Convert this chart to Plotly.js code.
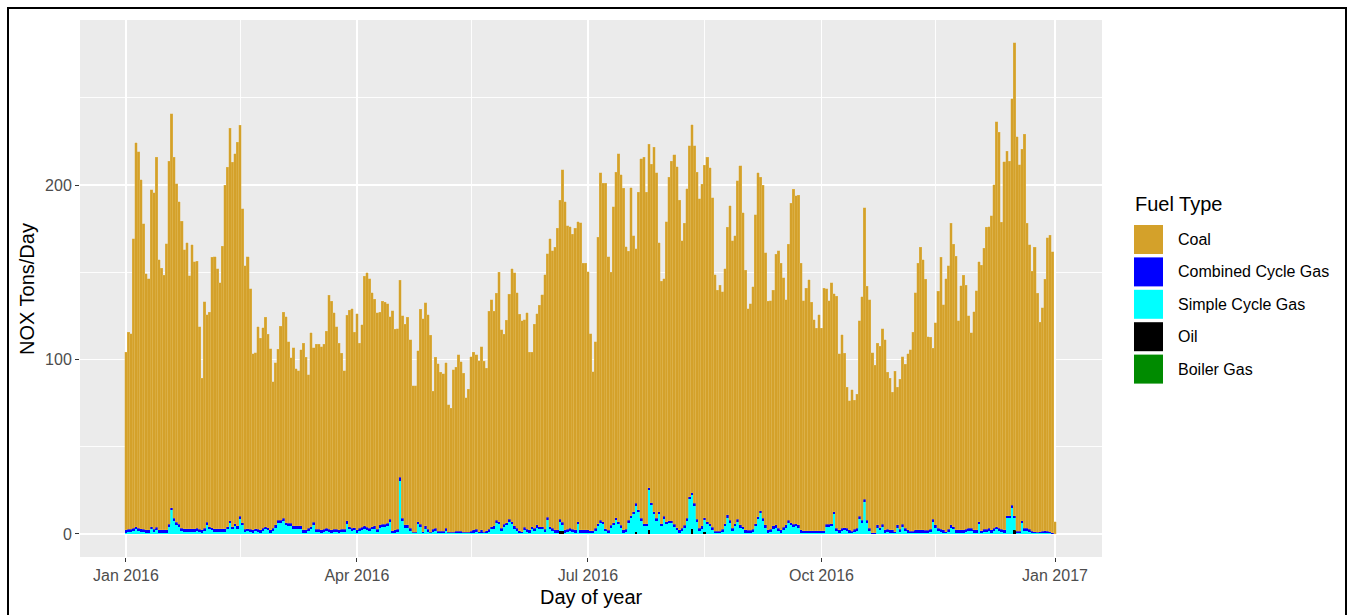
<!DOCTYPE html>
<html>
<head>
<meta charset="utf-8">
<script src="https://cdn.plot.ly/plotly-3.0.1.min.js"></script>
<style>html,body{margin:0;padding:0;background:#fff;}#chart{width:1354px;height:615px;}</style>
</head>
<body>
<div id="chart"></div>
<script>
// ---- Data (NOX tons/day by fuel type, one value per day from 2016-01-01 to 2017-01-01) ----
const startDate = '2016-01-01';

const coal = [
102,113,112,166,220,216,200,175,147,144,193,193,212,155,150,146,164,208,226,207,194,185,176,160,164,145,163,153,153,116,87,130,119,123,155,156,149,141,162,197,206,225,209,212,220,
224,180,151,156,138,101,101,116,110,115,120,111,104,84,93,98,111,118,118,104,95,102,90,89,101,107,99,88,111,100,106,106,105,106,113,134,131,124,116,107,101,91,118,124,126,112,
124,106,116,143,146,143,134,130,124,122,128,127,126,116,126,115,115,113,116,115,119,108,84,84,98,123,122,128,123,113,79,98,96,91,90,95,73,71,93,94,101,97,91,77,82,100,102,
100,98,105,98,93,125,130,123,130,143,114,109,116,129,145,145,135,124,121,119,124,102,100,117,121,127,133,146,151,165,159,162,173,183,202,188,174,173,169,173,172,176,153,153,148,113,
91,107,164,199,194,198,157,145,181,198,211,201,196,162,154,188,158,146,182,206,210,190,197,194,209,198,154,139,136,172,197,206,212,207,189,165,173,189,201,211,205,199,189,196,202,209,
204,189,147,138,141,136,146,165,180,165,165,194,206,180,149,127,130,139,177,197,191,191,156,131,131,135,155,159,153,143,129,158,183,192,188,189,153,132,139,144,131,121,116,124,116,139,
135,128,138,125,133,101,111,100,81,74,81,74,77,112,128,167,134,131,103,96,104,104,112,109,90,87,79,92,79,86,96,94,101,104,114,136,153,162,155,144,111,110,98,116,136,156,129,
145,151,173,162,157,120,140,146,140,122,112,125,137,149,152,161,173,173,180,197,232,227,176,211,209,203,233,271,226,210,213,226,175,163,149,163,137,120,128,144,168,170,161,7
];

const combinedCycleGas = [
1.5,1.5,1.5,1.5,1.5,1.5,1.5,1.5,1.5,1.5,1.5,1.5,1.5,1.5,1.5,1.5,1.5,1.5,1.5,1.5,1.5,1.5,1.5,1.5,1.5,1.5,1.5,1.5,1.5,1.5,
1.5,1.5,1.5,1.5,1.5,1.5,1.5,1.5,1.5,1.5,1.5,1.5,1.5,1.5,1.5,1.5,1.5,1.5,1.5,1.5,1.5,1.5,1.5,1.5,1.5,1.5,1.5,1.5,1.5,1.5,
1.5,1.5,1.5,1.5,1.5,1.5,1.5,1.5,1.5,1.5,1.5,1.5,1.5,1.5,1.5,1.5,1.5,1.5,1.5,1.5,1.5,1.5,1.5,1.5,1.5,1.5,1.5,1.5,1.5,1.5,1.5,
1.5,1.5,1.5,1.5,1.5,1.5,1.5,1.5,1.5,1.5,1.5,1.5,1.5,1.5,1.3,1.5,1.5,2,1.5,1.5,1.5,1.5,0.7,0.7,1.5,1.5,0.9,1.5,1.5,0.7,1.5,1.5,1.2,1.2,1.2,1.5,0.7,0.7,0.7,1.2,1.2,1.2,0.7,0.7,0.7,1.2,1.5,
1.5,0.9,1.5,0.7,1.3,1.5,1.5,1.5,1.5,1.5,1.5,1.5,1.5,1.5,1.5,1.5,1.5,1.3,0.9,1.5,1.5,1.5,1.5,1.5,1.5,1.5,1.5,1.5,1.5,1.5,1.5,1.5,1.5,1.5,1.5,1.5,1.5,1.5,1.5,1.5,1.5,1.5,1.5,1.5,1.5,1.3,
1.3,1.5,1.5,1.5,1.5,1.5,1.5,1.5,1.5,1.5,1.5,1.5,1.5,1.5,1.5,1.5,1.5,1.5,1.5,1.5,1.5,1.5,1.5,1.5,1.5,1.5,1.5,1.5,1.5,1.5,1.5,1.5,1.5,1.5,1.5,1.5,1.5,1.5,1.5,1.5,1.5,1.5,1.5,1.5,1.5,1.5,
1.5,1.5,1.2,1.2,1.2,1.5,1.5,1.5,1.5,1.5,1.5,1.5,1.5,1.5,1.5,1.5,1.5,1.5,1.5,1.5,1.5,1.5,1.5,1.5,1.5,1.5,1.5,1.5,1.5,1.5,1.5,1.5,1.5,1.5,1.5,1.5,1.5,1.3,1.3,1.3,1.3,1.3,1.3,1.3,1.3,1.3,
1.5,1.5,1.5,1.5,1.5,1.5,1.5,1.5,1.5,1.5,1.2,1.5,1.5,1.5,1.5,1.5,1.5,1.5,0.6,0.6,1.5,1.5,1.5,1.5,1.5,1.5,1.5,0.9,1.5,1.5,1.5,1.5,1.5,1.2,1.2,1.5,1.5,1.5,1.5,1.5,1.5,1.5,1.5,1.5,1.5,1.5,1.5,
0.9,1.5,1.5,1.5,1.5,1.5,1.5,1.5,1.5,1.5,1.5,1.5,1.5,1.5,1.3,1.5,1.5,1.5,1.5,1.5,1.5,1.5,1.5,1.5,1.5,1.5,1.5,1.5,1.2,1.2,1.5,1.5,1.5,1.5,1.2,0.9,0.7,0.9,1.2,1.3,1.2,0.9,0.6,0
];

const simpleCycleGas = [
0.8,1.2,1.2,1.7,2.7,1.7,1.4,1.2,0.8,0.8,2.7,1.2,2.3,0.8,0.8,0.8,0.8,4.2,13.5,7.5,5.2,4,1.7,1.4,1.4,1.4,1.4,1.4,1.7,1.2,0.8,1.7,5.2,2.7,2.1,1.4,1.4,1.4,1.4,1.4,2.7,6.1,2.7,4.5,3.1,
8.8,5,1.2,1.5,1.2,0.8,1.5,1.2,0.8,1.7,2.7,2.1,0.8,1.7,3.7,6.5,6.5,7.5,5,4.6,4.6,3.1,3.1,3.1,3.1,0.8,0.8,1.7,2.7,5.2,1.2,1.2,0.8,1.2,1.7,1.2,0.8,1.2,1.2,0.8,1.2,1.2,6,2.7,1.7,2.1,
0.8,1.7,2.3,3.1,2.3,1.7,2.7,3.1,1.2,3.7,4,4.2,4.6,6.9,0.6,0.8,1.2,30.5,7.5,3.7,3.7,1.7,0.3,0.3,5.5,4.2,0.4,3.1,1.2,0.3,1.2,1.7,0.5,0.5,0.5,1.7,0.3,0.3,0.3,0.5,0.5,0.5,0.3,0.3,0.3,0.5,0.8,
1.2,0.4,0.8,0.3,0.6,1.2,2.7,3.1,6.5,5.5,1.7,4,5,6.9,5.5,3.1,1.7,0.6,0.4,2.3,1.2,0.8,2.7,1.7,3.7,2.7,2.7,1.2,8.2,2.7,1.7,0.8,0.8,5.4,3.7,0.8,1.2,1.7,1.2,0.8,5.5,0.8,0.8,0.8,0.8,0.6,
0.6,1.7,4.5,6.5,5.5,1.5,0.5,3.5,5,7.9,5.5,3.5,0.8,1.2,6.5,9,11.3,15.1,12.5,7.5,4.5,4.5,23,16.5,11.3,7.5,11.3,4.5,8.8,5.5,6.1,6.1,4,2.1,0.8,1.7,3.5,7.5,19.9,19.2,16.1,6.9,1.7,3.1,6.9,5.5,
4.5,2.3,0.5,0.5,0.5,1.2,4.5,9.4,6.5,1.7,4.5,6.9,3.7,2.7,0.8,0.5,0.5,1.2,4.5,8.5,11.9,7.5,3.7,0.8,1.2,3.1,3.7,1.7,0.8,2.3,3.7,6.5,5,4.2,4.5,3.7,0.8,0.5,0.5,0.5,0.5,0.5,0.5,0.5,0.5,0.5,
4,4.2,4.5,11.3,1.7,0.8,1.7,2.1,1.7,0.8,0.5,1.2,1.7,8.8,6.5,18.4,6.5,1.7,0.2,0.2,3.7,2.1,4.2,0.8,1.2,0.8,0.8,0.4,3.7,1.2,4,1.7,0.8,0.5,0.5,0.8,0.8,0.8,0.8,0.5,0.5,1.2,6.9,3.7,1.7,1.2,0.8,
0.4,1.2,3.7,2.7,0.8,0.8,0.8,0.8,1.2,1.7,1.7,0.8,0.8,5.5,0.6,1.2,1.2,1.7,0.8,1.7,2.7,1.7,1.2,0.8,9,9,15.1,7,0.5,0.5,6.1,1.7,1.7,1.2,0.5,0.4,0.3,0.4,0.5,0.6,0.5,0.4,0.2,0
];

const oilDates  = ['2016-06-20','2016-06-21','2016-07-20','2016-07-25','2016-08-11','2016-08-16','2016-12-16'];
const oilValues = [1.5, 1.5, 1, 2, 3, 1, 2];

const boilerDates  = ['2016-01-01'];
const boilerValues = [0];

const fuelTypes  = ['Coal','Combined Cycle Gas','Simple Cycle Gas','Oil','Boiler Gas'];
const fuelColors = ['#D4A12A','#0000FF','#00FFFF','#000000','#008B00'];

const tickDates  = ['2016-01-01','2016-04-01','2016-07-01','2016-10-01','2017-01-01'];
const tickLabels = ['Jan 2016','Apr 2016','Jul 2016','Oct 2016','Jan 2017'];

// ---- Build day axis ----
const t0 = Date.parse(startDate + 'T00:00:00Z');
const dates = coal.map((_, i) => new Date(t0 + i * 86400000).toISOString().slice(0, 10));

const barW = 86400000;
function barTrace(x, y, name, color, lineColor) {
  return {type:'bar', x:x, y:y, name:name, width:x.map(() => barW),
          marker:{color:color, line:{width:lineColor ? 0.35 : 0, color:lineColor || color}},
          hoverinfo:'x+y+name', showlegend:false};
}

const traces = [
  barTrace(boilerDates, boilerValues, fuelTypes[4], fuelColors[4]),
  barTrace(oilDates, oilValues, fuelTypes[3], fuelColors[3]),
  barTrace(dates, simpleCycleGas, fuelTypes[2], fuelColors[2]),
  barTrace(dates, combinedCycleGas, fuelTypes[1], fuelColors[1]),
  barTrace(dates, coal, fuelTypes[0], fuelColors[0], '#E3BE62')
];

// ---- Layout helpers: pixel -> paper coordinates ----
const L = 80, R = 1102, T = 20, B = 557;
const px = x => (x - L) / (R - L);
const py = y => (B - y) / (B - T);

const shapes = [];
const annotations = [];
// legend (ggplot style)
annotations.push({xref:'paper', yref:'paper', x:px(1133), y:py(204), xanchor:'left', yanchor:'middle',
  text:'Fuel Type', showarrow:false, font:{size:20, color:'#000'}});
fuelTypes.forEach((name, k) => {
  const top = 225 + k * 32.4;
  shapes.push({type:'rect', xref:'paper', yref:'paper', x0:px(1134), x1:px(1163), y0:py(top + 29), y1:py(top),
    fillcolor:fuelColors[k], line:{width:0}});
  annotations.push({xref:'paper', yref:'paper', x:px(1176), y:py(top + 14.5), xanchor:'left', yanchor:'middle',
    text:name, showarrow:false, font:{size:16, color:'#000'}});
});
// axis titles
annotations.push({xref:'paper', yref:'paper', x:px(27), y:py(289), xanchor:'center', yanchor:'middle',
  text:'NOX Tons/Day', textangle:-90, showarrow:false, font:{size:20, color:'#000'}});
annotations.push({xref:'paper', yref:'paper', x:px(591), y:py(597), xanchor:'center', yanchor:'middle',
  text:'Day of year', showarrow:false, font:{size:20, color:'#000'}});
// outer border
shapes.push({type:'rect', xref:'paper', yref:'paper', x0:px(8), x1:px(1346), y0:py(630), y1:py(8),
  line:{color:'#000', width:2}, fillcolor:'rgba(0,0,0,0)'});

const layout = {
  width:1354, height:615,
  margin:{l:L, r:1354 - R, t:T, b:615 - B},
  paper_bgcolor:'#FFFFFF', plot_bgcolor:'#EBEBEB',
  font:{family:'Liberation Sans, Arial, sans-serif', size:16, color:'#4D4D4D'},
  barmode:'stack', bargap:0,
  showlegend:false,
  xaxis:{type:'date', range:['2015-12-13T22:00:00','2017-01-19T12:00:00'],
    tickmode:'array', tickvals:tickDates, ticktext:tickLabels,
    ticks:'outside', ticklen:4, tickcolor:'#333333', tickwidth:1,
    showgrid:true, gridcolor:'#FFFFFF', gridwidth:1.8, zeroline:false, showline:false,
    tickfont:{size:16, color:'#4D4D4D'},
    minor:{tickmode:'array', tickvals:['2015-11-16','2016-02-15','2016-05-16','2016-08-16','2016-11-15','2017-02-15'],
           showgrid:true, gridcolor:'#FFFFFF', gridwidth:0.9, ticks:''}},
  yaxis:{range:[-13.2, 294.6], tickmode:'array', tickvals:[0,100,200], ticktext:['0','100','200'],
    ticks:'outside', ticklen:4, tickcolor:'#333333', tickwidth:1,
    showgrid:true, gridcolor:'#FFFFFF', gridwidth:1.8, zeroline:false, showline:false,
    tickfont:{size:16, color:'#4D4D4D'},
    minor:{tickmode:'array', tickvals:[50,150,250], showgrid:true, gridcolor:'#FFFFFF', gridwidth:0.9, ticks:''}},
  shapes:shapes,
  annotations:annotations
};

Plotly.newPlot('chart', traces, layout, {displayModeBar:false, staticPlot:true});
</script>
</body>
</html>
